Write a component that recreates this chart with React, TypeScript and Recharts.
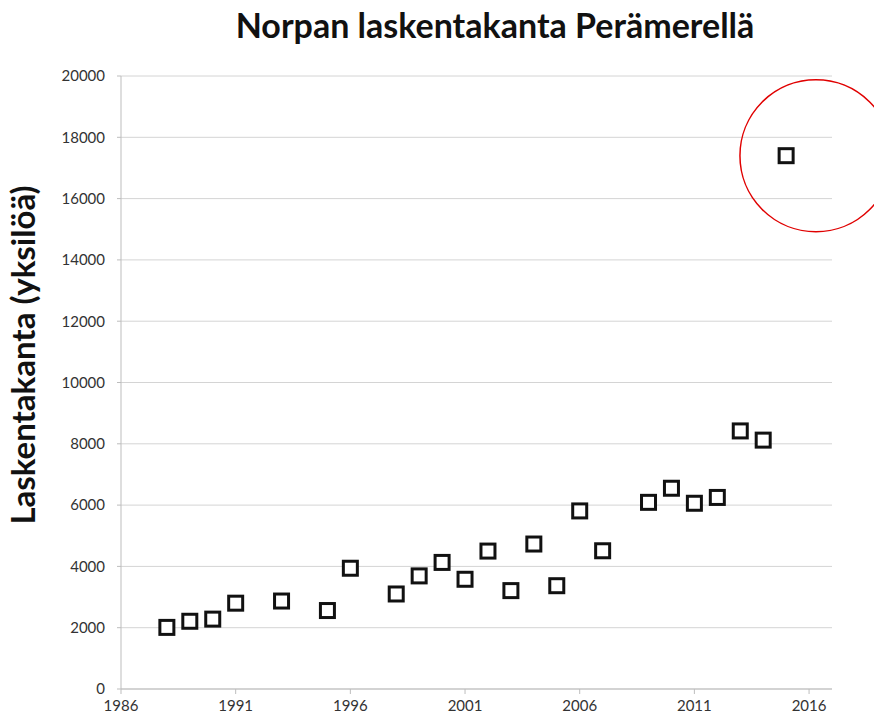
import { CartesianGrid, ReferenceDot, Scatter, ScatterChart, XAxis, YAxis } from "recharts";

const years = [1988, 1989, 1990, 1991, 1993, 1995, 1996, 1998, 1999, 2000, 2001, 2002, 2003, 2004, 2005, 2006, 2007, 2009, 2010, 2011, 2012, 2013, 2014, 2015];
const counts = [2010, 2210, 2280, 2800, 2870, 2560, 3940, 3100, 3690, 4130, 3580, 4500, 3210, 4730, 3370, 5810, 4510, 6090, 6550, 6060, 6250, 8420, 8120, 17400];
const xTicks = [1986, 1991, 1996, 2001, 2006, 2011, 2016];
const yTicks = [0, 2000, 4000, 6000, 8000, 10000, 12000, 14000, 16000, 18000, 20000];
// red ring drawn around the latest count
const highlight = { year: 2016.3, count: 17400 };

const data = years.map((year, i) => ({ year, count: counts[i] }));
const font = "Lato, 'Open Sans', sans-serif";

function Square(props: any) {
  const { cx, cy } = props;
  return <rect x={cx - 7} y={cy - 7} width={14} height={14} fill="#fff" stroke="#111" strokeWidth={3} />;
}

export default function App() {
  return (
    <div style={{ position: "relative", width: 874, height: 714, fontFamily: font }}>
      <div
        style={{
          position: "absolute",
          left: 487,
          top: 0,
          transform: "translateX(-50%)",
          whiteSpace: "nowrap",
          fontSize: 34,
          lineHeight: "34px",
          fontWeight: 700,
          color: "#111",
        }}
      >
        Norpan laskentakanta Perämerellä
      </div>
      <div
        style={{
          position: "absolute",
          left: 14,
          top: 347,
          transform: "translate(-50%, -50%) rotate(-90deg)",
          whiteSpace: "nowrap",
          fontSize: 33,
          lineHeight: "33px",
          fontWeight: 700,
          color: "#111",
        }}
      >
        Laskentakanta (yksilöä)
      </div>
      <ScatterChart width={874} height={714} margin={{ top: 68, right: 50, bottom: 0, left: 0 }}>
        <CartesianGrid vertical={false} stroke="#d4d4d4" />
        <XAxis
          type="number"
          dataKey="year"
          domain={[1986, 2017]}
          ticks={xTicks}
          height={33}
          stroke="#bdbdbd"
          tickSize={5}
          tickMargin={6}
          tick={{ fill: "#333", fontSize: 15, fontFamily: font }}
        />
        <YAxis
          type="number"
          dataKey="count"
          domain={[0, 20000]}
          ticks={yTicks}
          width={113}
          stroke="#bdbdbd"
          tickSize={4}
          tickMargin={12}
          tick={{ fill: "#333", fontSize: 15, fontFamily: font }}
        />
        <Scatter data={data} shape={<Square />} isAnimationActive={false} />
        <ReferenceDot
          x={highlight.year}
          y={highlight.count}
          r={76}
          fill="none"
          stroke="#e00000"
          strokeWidth={1.5}
          ifOverflow="visible"
        />
      </ScatterChart>
    </div>
  );
}
